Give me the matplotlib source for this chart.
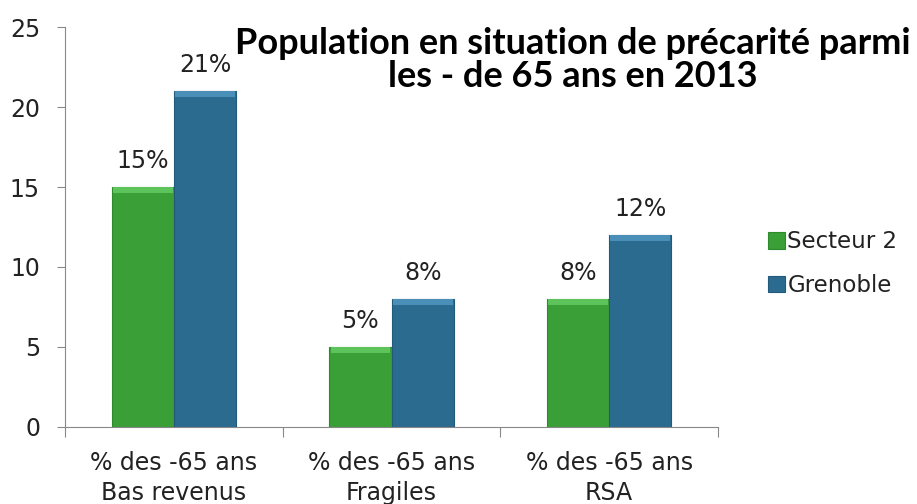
import matplotlib
matplotlib.use('Agg')
import matplotlib.pyplot as plt
import numpy as np

categories = ['% des -65 ans\nBas revenus', '% des -65 ans\nFragiles', '% des -65 ans\nRSA']
series_names = ['Secteur 2', 'Grenoble']
secteur2 = [15, 5, 8]
grenoble = [21, 8, 12]
yticks = [0, 5, 10, 15, 20, 25]

green = '#3a9f36'
blue = '#2b6b8f'

fig = plt.figure(figsize=(9.17, 5.04), dpi=100)
ax = fig.add_axes([0.0709, 0.1528, 0.7121, 0.7936])

x = np.arange(len(categories))
w = 0.286
bars1 = ax.bar(x - w / 2, secteur2, w, color=green, edgecolor='#2f8a2c', linewidth=0.8,
               label=series_names[0])
bars2 = ax.bar(x + w / 2, grenoble, w, color=blue, edgecolor='#23597a', linewidth=0.8,
               label=series_names[1])

# light bevel strip on top of each bar
for bars, col in ((bars1, '#5cc45a'), (bars2, '#4a8fb8')):
    for b in bars:
        ax.bar(b.get_x() + b.get_width() / 2, 0.35, b.get_width() * 0.96,
               bottom=b.get_height() - 0.35, color=col, linewidth=0)

for bars, vals in ((bars1, secteur2), (bars2, grenoble)):
    for b, v in zip(bars, vals):
        ax.text(b.get_x() + b.get_width() / 2, v + 0.85, f'{v}%',
                ha='center', va='bottom', fontsize=17, color='#222222')

ax.set_xlim(-0.5, len(categories) - 0.5)
ax.set_ylim(0, 25)
ax.set_yticks(yticks)
ax.set_yticklabels([str(t) for t in yticks], fontsize=17, color='#222222')
ax.set_xticks(x)
ax.set_xticklabels(categories, fontsize=17, color='#222222', linespacing=1.35)
ax.tick_params(axis='x', length=0, pad=17)
ax.tick_params(axis='y', length=6, width=0.8, color='#888888', pad=12)
ax.set_xticks(np.arange(len(categories) + 1) - 0.5, minor=True)
ax.tick_params(axis='x', which='minor', length=7, width=0.8, color='#888888')

for s in ('top', 'right'):
    ax.spines[s].set_visible(False)
for s in ('left', 'bottom'):
    ax.spines[s].set_color('#888888')
    ax.spines[s].set_linewidth(0.8)

fig.text(0.625, 0.880, 'Population en situation de précarité parmi\nles - de 65 ans en 2013',
         ha='center', va='center', fontsize=26, fontweight='bold', family='Lato',
         linespacing=1.0, color='black')

leg = fig.legend(loc='center left', bbox_to_anchor=(0.815, 0.477), frameon=False,
                 fontsize=16.5, handlelength=0.75, handleheight=0.75, handletextpad=0.1,
                 labelspacing=0.9)
for t in leg.get_texts():
    t.set_color('#222222')

fig.savefig('out.png', dpi=100)
